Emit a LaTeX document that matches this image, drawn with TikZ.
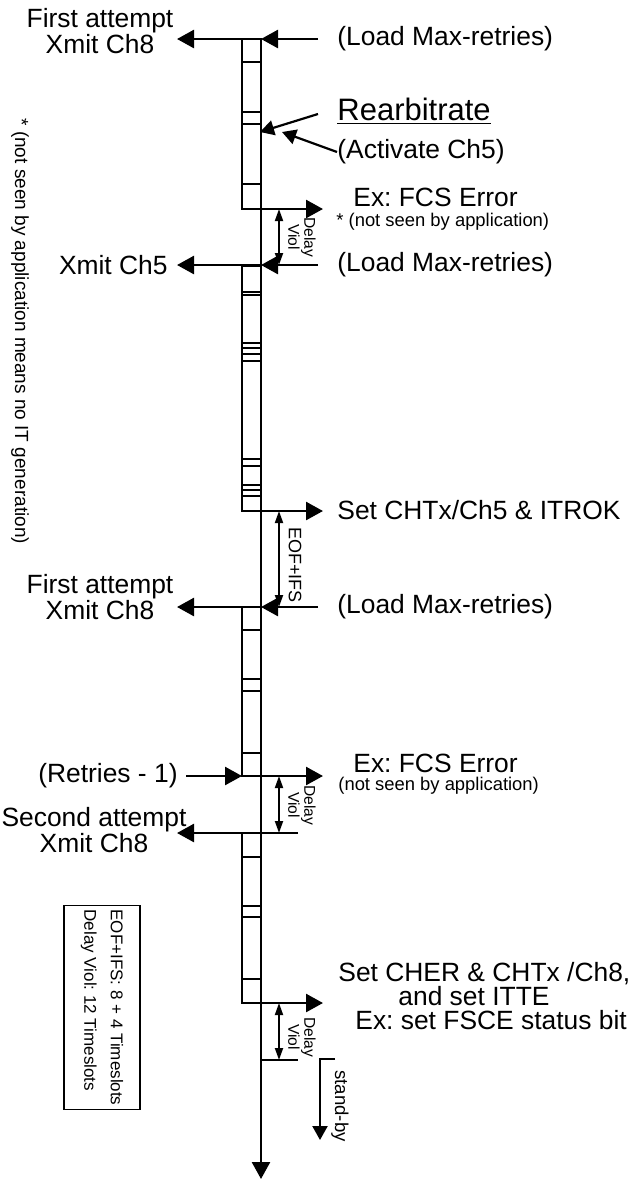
\documentclass[tikz,border=0pt]{standalone}
\usepackage{fontspec}
\setmainfont{Liberation Sans}
\usepackage{tikz}
\usetikzlibrary{arrows.meta, positioning}
\frenchspacing

\begin{document}
\begin{tikzpicture}[
    x=0.5pt, y=-0.5pt,
    big/.style={font=\fontsize{13.2}{12}\selectfont, inner sep=0pt, align=center},
    small/.style={font=\fontsize{9.2}{10}\selectfont, inner sep=0pt},
    tiny/.style={font=\fontsize{7.8}{8}\selectfont, inner sep=0pt, align=center, rotate=-90},
    vlabel/.style={font=\fontsize{9}{10}\selectfont, inner sep=0pt, rotate=-90},
    slot/.style={line width=1.1pt},
    arr/.style={line width=1.3pt, -{Triangle[length=8.5pt, width=9pt]}},
    sarr/.style={line width=1.1pt, -{Triangle[length=7pt, width=7.5pt]}},
    dim/.style={line width=0.9pt, {Triangle[length=6pt, width=4pt]}-{Triangle[length=6pt, width=4pt]}}
]
\useasboundingbox (0,0) rectangle (634,1180);

% columns
\coordinate (L)  at (177,0);
\coordinate (B)  at (242,0);
\coordinate (D)  at (279,0);
\coordinate (S)  at (298,0);
\coordinate (R)  at (318,0);
\coordinate (Ro) at (323,0);

% events on the line
\coordinate (e1) at (261,39);
\coordinate (e2) at (261,209);
\coordinate (e3) at (261,265);
\coordinate (e4) at (261,511);
\coordinate (e5) at (261,607);
\coordinate (e6) at (261,776);
\coordinate (e7) at (261,833);
\coordinate (e8) at (261,1003);
\coordinate (e9) at (261,1060);
\coordinate (end) at (261,1179);

% slots
\draw[slot] (242,39) rectangle (261,209);
\foreach \y in {62,112,124,184} \draw[slot] (242,\y) -- (261,\y);
\draw[slot] (242,266) rectangle (261,511);
\foreach \y in {292,295,343,348,354,361,459,466,485,490,496} \draw[slot] (242,\y) -- (261,\y);
\draw[slot] (242,607) rectangle (261,776);
\foreach \y in {630,679,691,753} \draw[slot] (242,\y) -- (261,\y);
\draw[slot] (242,833) rectangle (261,1003);
\foreach \y in {857,906,917,979} \draw[slot] (242,\y) -- (261,\y);

% labels
\node[big] (fa1) at (100,31) {First attempt\\Xmit Ch8};
\node[big, anchor=east] (xc5) at (168,265) {Xmit Ch5};
\node[big] (fa2) at (100,597) {First attempt\\Xmit Ch8};
\node[big, anchor=east] (rt) at (178,776) {(Retries - 1)};
\node[big] (sa) at (94,830) {Second attempt\\Xmit Ch8};

\node[big, anchor=west] (ld1) at (337,39) {(Load Max-retries)};
\node[font=\fontsize{15.5}{16}\selectfont, inner sep=0pt, anchor=base west] (rb) at (337,120) {\underline{Rearbitrate}};
\node[big, anchor=west] (act) at (337,152) {(Activate Ch5)};
\node[big, anchor=west] (fcs1) at (353,197) {Ex: FCS Error};
\node[small, anchor=west] (ns1) at (336,222) {* (not seen by application)};
\node[big, anchor=west] (ld2) at (337,265) {(Load Max-retries)};
\node[big, anchor=west] (ok) at (337,510) {Set CHTx/Ch5 \& ITROK};
\node[big, anchor=west] (ld3) at (337,607) {(Load Max-retries)};
\node[big, anchor=west] (fcs2) at (353,763) {Ex: FCS Error};
\node[small, anchor=west] (ns2) at (338,786) {(not seen by application)};
\node[big, anchor=north west, align=left, font=\fontsize{13.2}{12}\selectfont] (cher) at (338,962)
    {Set CHER \& CHTx /Ch8,\\\hspace*{30pt}and set ITTE\\\hspace*{8.5pt}Ex: set FSCE status bit};

\node[tiny] (dv1) at (302,237) {Delay\\Viol};
\node[vlabel] (eof) at (295,565) {EOF+IFS};
\node[tiny] (dv2) at (302,805) {Delay\\Viol};
\node[tiny] (dv3) at (302,1037) {Delay\\Viol};
\node[vlabel, font=\fontsize{9.3}{10}\selectfont] (sb) at (340,1106) {stand-by};

\node[small, font=\fontsize{9.5}{10}\selectfont, rotate=-90, anchor=west] (note) at (20,118) {* (not seen by application means no IT generation)};
\node[draw, line width=0.9pt, rotate=-90, minimum width=99.5pt, minimum height=38pt,
      font=\fontsize{8.5}{13.2}\selectfont, align=left, inner sep=2pt] (legend) at (102,1007.5)
      {EOF+IFS: 8 + 4 Timeslots\\Delay Viol: 12 Timeslots};

% connectors
\draw[arr] (e1) -- (end);
\draw[arr] (e1) -- (e1 -| L);
\draw[arr] (e1 -| R) -- (e1);
\coordinate (r0) at (318,114);
\coordinate (r1) at (260,132);
\coordinate (r3) at (282,132);
\draw[sarr] (r0) -- (r1);
\draw[sarr] (act.west) -- (r3);
\draw[arr] (e2) -- (e2 -| Ro);
\draw[dim] (e2 -| D) -- (e3 -| D);
\draw[arr] (e3) -- (e3 -| L);
\draw[arr] (e3 -| R) -- (e3);
\draw[arr] (e4) -- (e4 -| Ro);
\draw[dim] (e4 -| D) -- (e5 -| D);
\draw[arr] (e5) -- (e5 -| L);
\draw[arr] (e5 -| R) -- (e5);
\draw[arr] ([xshift=4pt]rt.east) -- (e6 -| B);
\draw[arr] (e6) -- (e6 -| Ro);
\draw[dim] (e6 -| D) -- (e7 -| D);
\draw[arr] (e7 -| S) -- (e7 -| L);
\draw[arr] (e8) -- (e8 -| Ro);
\draw[dim] (e8 -| D) -- (e9 -| D);
\draw[line width=1.3pt] (e9) -- (e9 -| S);
\coordinate (sb0) at (335,1059);
\coordinate (sb1) at (320,1140);
\draw[sarr] (sb0) -- (sb1 |- sb0) -- (sb1);

\end{tikzpicture}
\end{document}
